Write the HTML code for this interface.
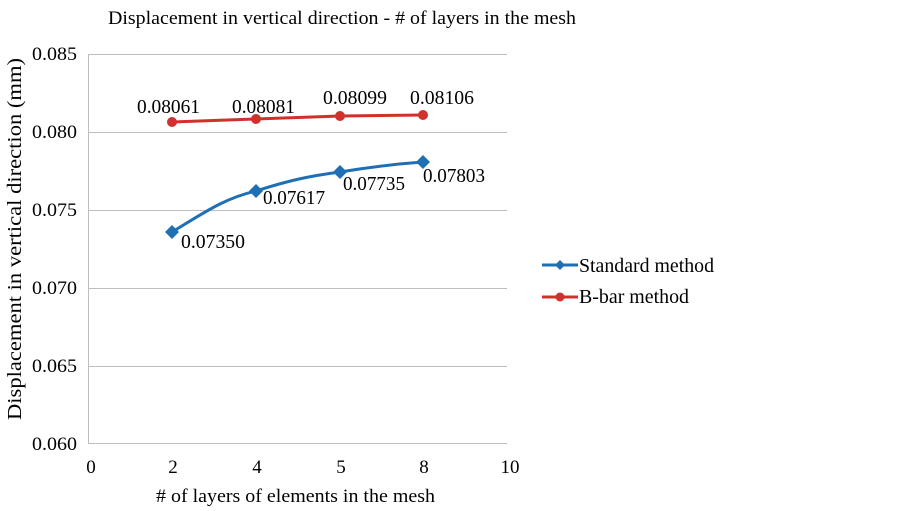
<!DOCTYPE html>
<html><head><meta charset="utf-8"><style>
html,body{margin:0;padding:0;background:#fff;}
svg{display:block;font-family:"Liberation Serif",serif;}
</style></head><body>
<svg width="902" height="511" viewBox="0 0 902 511" xmlns="http://www.w3.org/2000/svg">
<text x="108" y="24" font-size="19" fill="#000" textLength="468" lengthAdjust="spacingAndGlyphs">Displacement in vertical direction - # of layers in the mesh</text>
<g stroke="#bdbdbd" stroke-width="1">
<line x1="88" y1="54.5" x2="507" y2="54.5"/>
<line x1="88" y1="132.5" x2="507" y2="132.5"/>
<line x1="88" y1="210.5" x2="507" y2="210.5"/>
<line x1="88" y1="288.5" x2="507" y2="288.5"/>
<line x1="88" y1="366.5" x2="507" y2="366.5"/>
<line x1="88" y1="443.5" x2="507" y2="443.5"/>
<line x1="88.5" y1="54" x2="88.5" y2="444"/>
</g>
<g font-size="19" fill="#000">
<text x="32" y="60" textLength="45" lengthAdjust="spacingAndGlyphs">0.085</text>
<text x="32" y="138" textLength="45" lengthAdjust="spacingAndGlyphs">0.080</text>
<text x="32" y="216" textLength="45" lengthAdjust="spacingAndGlyphs">0.075</text>
<text x="32" y="294" textLength="45" lengthAdjust="spacingAndGlyphs">0.070</text>
<text x="32" y="372" textLength="45" lengthAdjust="spacingAndGlyphs">0.065</text>
<text x="32" y="450" textLength="45" lengthAdjust="spacingAndGlyphs">0.060</text>
</g>
<g font-size="19" fill="#000" text-anchor="middle">
<text x="91" y="473">0</text>
<text x="173" y="473">2</text>
<text x="257" y="473">4</text>
<text x="341" y="473">5</text>
<text x="424" y="473">8</text>
<text x="510" y="473">10</text>
</g>
<text x="156" y="502" font-size="19" textLength="279" lengthAdjust="spacingAndGlyphs">&#35; of layers of elements in the mesh</text>
<text transform="translate(21,420) rotate(-90)" font-size="20" textLength="362" lengthAdjust="spacingAndGlyphs">Displacement in vertical direction (mm)</text>
<!-- B-bar -->
<polyline points="172,122 256,119 340,116 423,115" fill="none" stroke="#d0312d" stroke-width="3"/>
<g fill="#d0312d">
<circle cx="172" cy="122" r="5"/><circle cx="256" cy="119" r="5"/><circle cx="340" cy="116" r="5"/><circle cx="423" cy="115" r="5"/>
</g>
<!-- Standard -->
<path d="M172,232 C205,212 225,198 256,191 C290,180 310,176 340,172 C370,167 395,164 423,162" fill="none" stroke="#1f6fb5" stroke-width="3"/>
<g fill="#1f6fb5">
<polygon points="172,225 179,232 172,239 165,232"/>
<polygon points="256,184 263,191 256,198 249,191"/>
<polygon points="340,165 347,172 340,179 333,172"/>
<polygon points="423,155 430,162 423,169 416,162"/>
</g>
<g font-size="20" fill="#000" lengthAdjust="spacingAndGlyphs">
<text x="137" y="113" textLength="63" lengthAdjust="spacingAndGlyphs">0.08061</text>
<text x="232" y="113" textLength="63" lengthAdjust="spacingAndGlyphs">0.08081</text>
<text x="323" y="104" textLength="64" lengthAdjust="spacingAndGlyphs">0.08099</text>
<text x="410" y="104" textLength="64" lengthAdjust="spacingAndGlyphs">0.08106</text>
<text x="181" y="248" textLength="64" lengthAdjust="spacingAndGlyphs">0.07350</text>
<text x="263" y="204" textLength="62" lengthAdjust="spacingAndGlyphs">0.07617</text>
<text x="343" y="190" textLength="62" lengthAdjust="spacingAndGlyphs">0.07735</text>
<text x="423" y="182" textLength="62" lengthAdjust="spacingAndGlyphs">0.07803</text>
</g>
<!-- legend -->
<line x1="542" y1="265" x2="578" y2="265" stroke="#1f6fb5" stroke-width="3"/>
<polygon points="560,260 565,265 560,270 555,265" fill="#1f6fb5"/>
<text x="579" y="272" font-size="20" textLength="135" lengthAdjust="spacingAndGlyphs">Standard method</text>
<line x1="542" y1="297" x2="578" y2="297" stroke="#d0312d" stroke-width="3"/>
<circle cx="560" cy="297" r="4.5" fill="#d0312d"/>
<text x="579" y="303" font-size="20" textLength="110" lengthAdjust="spacingAndGlyphs">B-bar method</text>
</svg>
</body></html>
